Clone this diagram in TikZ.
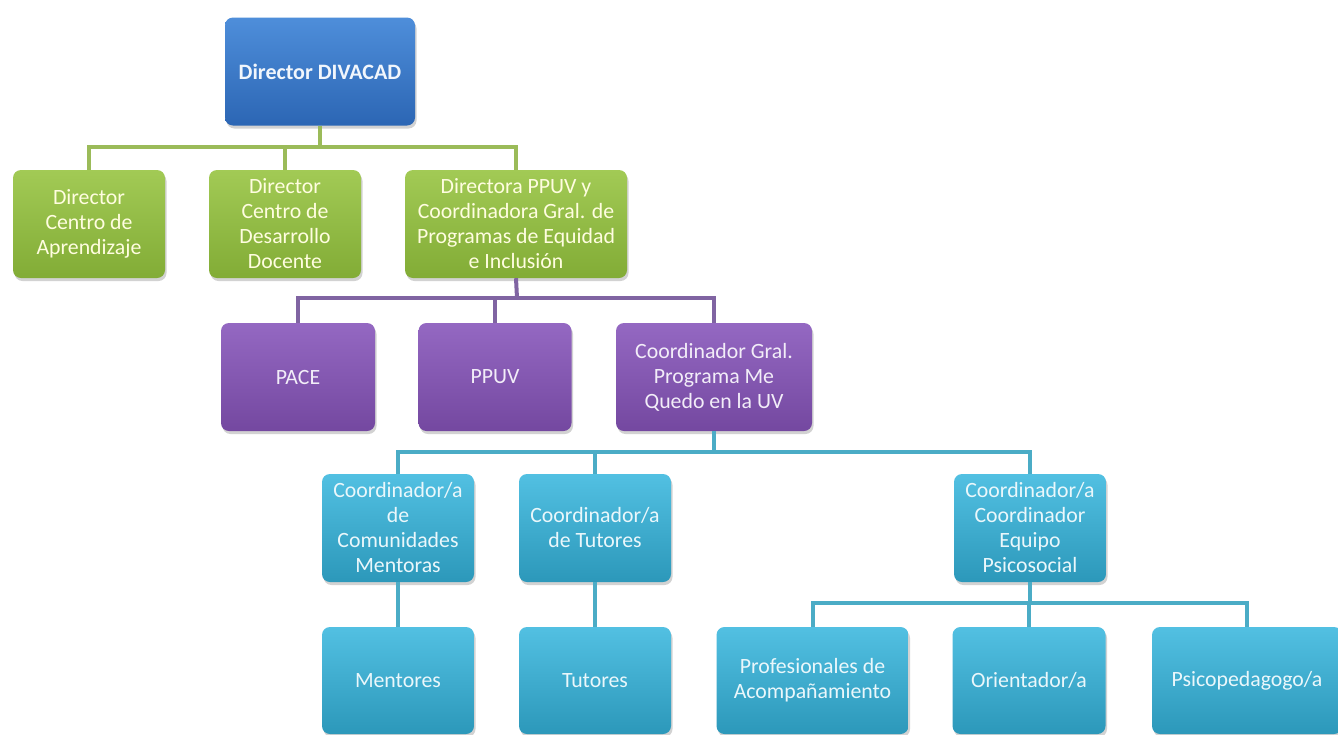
\documentclass[tikz,border=0pt]{standalone}
\usepackage{fontspec}
\setmainfont{Carlito}
\usetikzlibrary{shadows}
\definecolor{bluetop}{HTML}{4E8EDA}
\definecolor{bluebot}{HTML}{2C66B4}
\definecolor{greentop}{HTML}{A2CA55}
\definecolor{greenbot}{HTML}{82AC36}
\definecolor{purtop}{HTML}{9468C2}
\definecolor{purbot}{HTML}{7448A0}
\definecolor{cyantop}{HTML}{52C0E2}
\definecolor{cyanbot}{HTML}{2C98BA}
\definecolor{gline}{HTML}{9BBB59}
\definecolor{pline}{HTML}{8064A2}
\definecolor{cline}{HTML}{4BACC6}
\tikzset{
  box/.style={rounded corners=8pt, inner sep=0pt, align=center,
    minimum height=108pt, minimum width=#1,
    font=\fontsize{21.8}{25}\selectfont,
    drop shadow={opacity=0.35, shadow xshift=1.5pt, shadow yshift=-3pt}},
  bluebox/.style={box=#1, top color=bluetop, bottom color=bluebot, text=white!92!bluetop},
  greenbox/.style={box=#1, top color=greentop, bottom color=greenbot, text=white!88!yellow},
  purbox/.style={box=#1, top color=purtop, bottom color=purbot, text=white!88!purtop},
  cyanbox/.style={box=#1, top color=cyantop, bottom color=cyanbot, text=white!88!cyantop},
  gconn/.style={draw=gline, line width=4pt},
  pconn/.style={draw=pline, line width=4pt},
  cconn/.style={draw=cline, line width=4pt},
}
\begin{document}
\begin{tikzpicture}[x=1pt,y=-1pt]
\useasboundingbox (0,0) rectangle (1338,734);
\clip (0,0) rectangle (1338,734);
\fill[white] (0,0) rectangle (1338,734);

\coordinate (gbus) at (320,147);
\coordinate (pbus) at (517,298);
\coordinate (cbus) at (714,452);
\coordinate (dbus) at (1030,603);

% nodes
\node[bluebox=190pt, font=\fontsize{22}{25}\selectfont\bfseries] (dir) at (320,71.5) {Director DIVACAD};

\node[greenbox=152pt] (g1) at (89,224) {Director\\Centro de\\Aprendizaje};
\node[greenbox=152pt] (g2) at (285,224) {Director\\Centro de\\Desarrollo\\Docente};
\node[greenbox=222pt] (g3) at (516,224) {Directora PPUV y\\Coordinadora Gral. de\\Programas de Equidad\\e Inclusión};

\node[purbox=154pt] (p1) at (298,377) {PACE};
\node[purbox=153pt] (p2) at (495,377) {PPUV};
\node[purbox=196pt] (p3) at (714,377) {Coordinador Gral.\\Programa Me\\Quedo en la UV};

\node[cyanbox=152pt] (c1) at (398,528) {Coordinador/a\\de\\Comunidades\\Mentoras};
\node[cyanbox=152pt] (c2) at (595,528) {Coordinador/a\\de Tutores};
\node[cyanbox=152pt] (c3) at (1030,528) {Coordinador/a\\Coordinador\\Equipo\\Psicosocial};

\node[cyanbox=152pt, minimum height=107pt] (d1) at (398,680.5) {Mentores};
\node[cyanbox=152pt, minimum height=107pt] (d2) at (595,680.5) {Tutores};
\node[cyanbox=192pt, minimum height=107pt] (d3) at (812.5,680.5) {Profesionales de\\Acompañamiento};
\node[cyanbox=153pt, minimum height=107pt] (d4) at (1029,680.5) {Orientador/a};
\node[cyanbox=190pt, minimum height=107pt] (d5) at (1247,680.5) {Psicopedagogo/a};

% connectors
\draw[gconn] (dir.south) -- (gbus);
\draw[gconn] (gbus) -| (g1.north);
\draw[gconn] (gbus) -| (g2.north);
\draw[gconn] (gbus) -| (g3.north);

\draw[pconn] (g3.south) -- (pbus);
\draw[pconn] (pbus) -| (p1.north);
\draw[pconn] (pbus) -| (p2.north);
\draw[pconn] (pbus) -| (p3.north);

\draw[cconn] (p3.south) -- (cbus);
\draw[cconn] (cbus) -| (c1.north);
\draw[cconn] (cbus) -| (c2.north);
\draw[cconn] (cbus) -| (c3.north);

\draw[cconn] (c1.south) -- (d1.north);
\draw[cconn] (c2.south) -- (d2.north);

\draw[cconn] (c3.south) -- (dbus);
\draw[cconn] (dbus) -| (d3.north);
\draw[cconn] (dbus) -| (d4.north);
\draw[cconn] (dbus) -| (d5.north);
\end{tikzpicture}
\end{document}
